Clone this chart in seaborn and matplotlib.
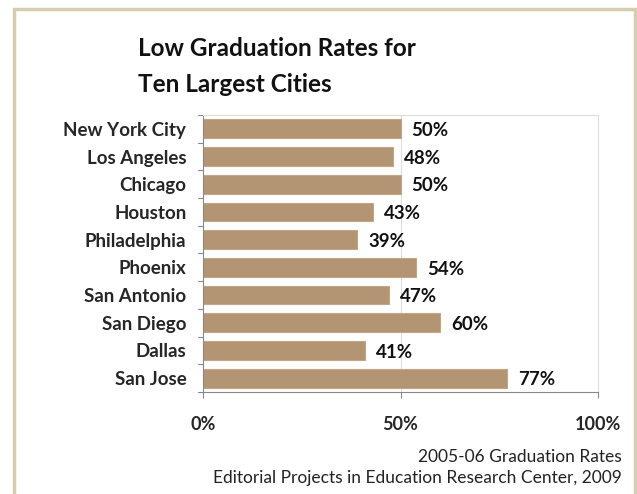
import matplotlib
matplotlib.use("Agg")
import matplotlib.pyplot as plt
import seaborn as sns
import pandas as pd
from matplotlib.patches import Rectangle

cities = ["New York City", "Los Angeles", "Chicago", "Houston", "Philadelphia",
          "Phoenix", "San Antonio", "San Diego", "Dallas", "San Jose"]
rates = [50, 48, 50, 43, 39, 54, 47, 60, 41, 77]
xticks = [0, 50, 100]
xticklabels = ["0%", "50%", "100%"]
title_lines = ["Low Graduation Rates for", "Ten Largest Cities"]
source_lines = ["2005-06 Graduation Rates", "Editorial Projects in Education Research Center, 2009"]

sns.set_theme(style="white")
plt.rcParams['font.family'] = ['Lato', 'DejaVu Sans']

df = pd.DataFrame({"city": cities, "rate": rates})

W, H = 637, 494
fig = plt.figure(figsize=(W / 100, H / 100), dpi=100)
fig.patch.set_facecolor("white")

# outer border
fig.patches.append(Rectangle((14 / W, -0.05), (635 - 14) / W, (H - 9) / H + 0.05,
                             transform=fig.transFigure, fill=False,
                             edgecolor="#d6cdb0", linewidth=2.5))

ax = fig.add_axes([203 / W, 1 - 392 / H, (598 - 203) / W, (392 - 115) / H])
sns.barplot(data=df, y="city", x="rate", orient="h", color="#b39573",
            edgecolor="#c2a688", linewidth=0.8, width=0.68, saturation=1, ax=ax)

ax.set_xlim(0, 100)
ax.set_ylim(9.5, -0.5)
ax.set_xticks(xticks)
ax.set_xticklabels(xticklabels, fontsize=13, fontweight="bold")
ax.set_xlabel("")
ax.set_ylabel("")
ax.tick_params(axis="x", pad=13, length=4, width=0.8, color="#888888", bottom=True, direction="out")
ax.set_yticks(range(len(cities)))
ax.set_yticklabels(cities, fontsize=13.5, fontweight="bold")
ax.tick_params(axis="y", length=0, pad=12)
# category boundary ticks
for i in range(len(cities) + 1):
    ax.plot([-0.012, 0], [i - 0.5, i - 0.5], transform=ax.get_yaxis_transform(),
            color="#888888", lw=0.8, clip_on=False)

ax.axvline(50, color="#dddddd", lw=0.8, zorder=0)
for s in ["top", "right"]:
    ax.spines[s].set_color("#dddddd")
    ax.spines[s].set_linewidth(0.8)
for s in ["left", "bottom"]:
    ax.spines[s].set_color("#888888")
    ax.spines[s].set_linewidth(0.8)

for i, v in enumerate(rates):
    ax.text(v + 2.8, i + 0.06, f"{v}%", va="center", ha="left",
            fontsize=13.5, fontweight="bold", color="#111111")

fig.text(138 / W, 1 - 56 / H, title_lines[0], fontsize=17.5, fontweight="bold",
         ha="left", va="baseline", color="#111111")
fig.text(138 / W, 1 - 92 / H, title_lines[1], fontsize=17.5, fontweight="bold",
         ha="left", va="baseline", color="#111111")

fig.text(622 / W, 1 - 457 / H, source_lines[0], fontsize=12.5, ha="right", va="center", color="#222222")
fig.text(622 / W, 1 - 478 / H, source_lines[1], fontsize=12.5, ha="right", va="center", color="#222222")

fig.savefig("out.png", dpi=100)
